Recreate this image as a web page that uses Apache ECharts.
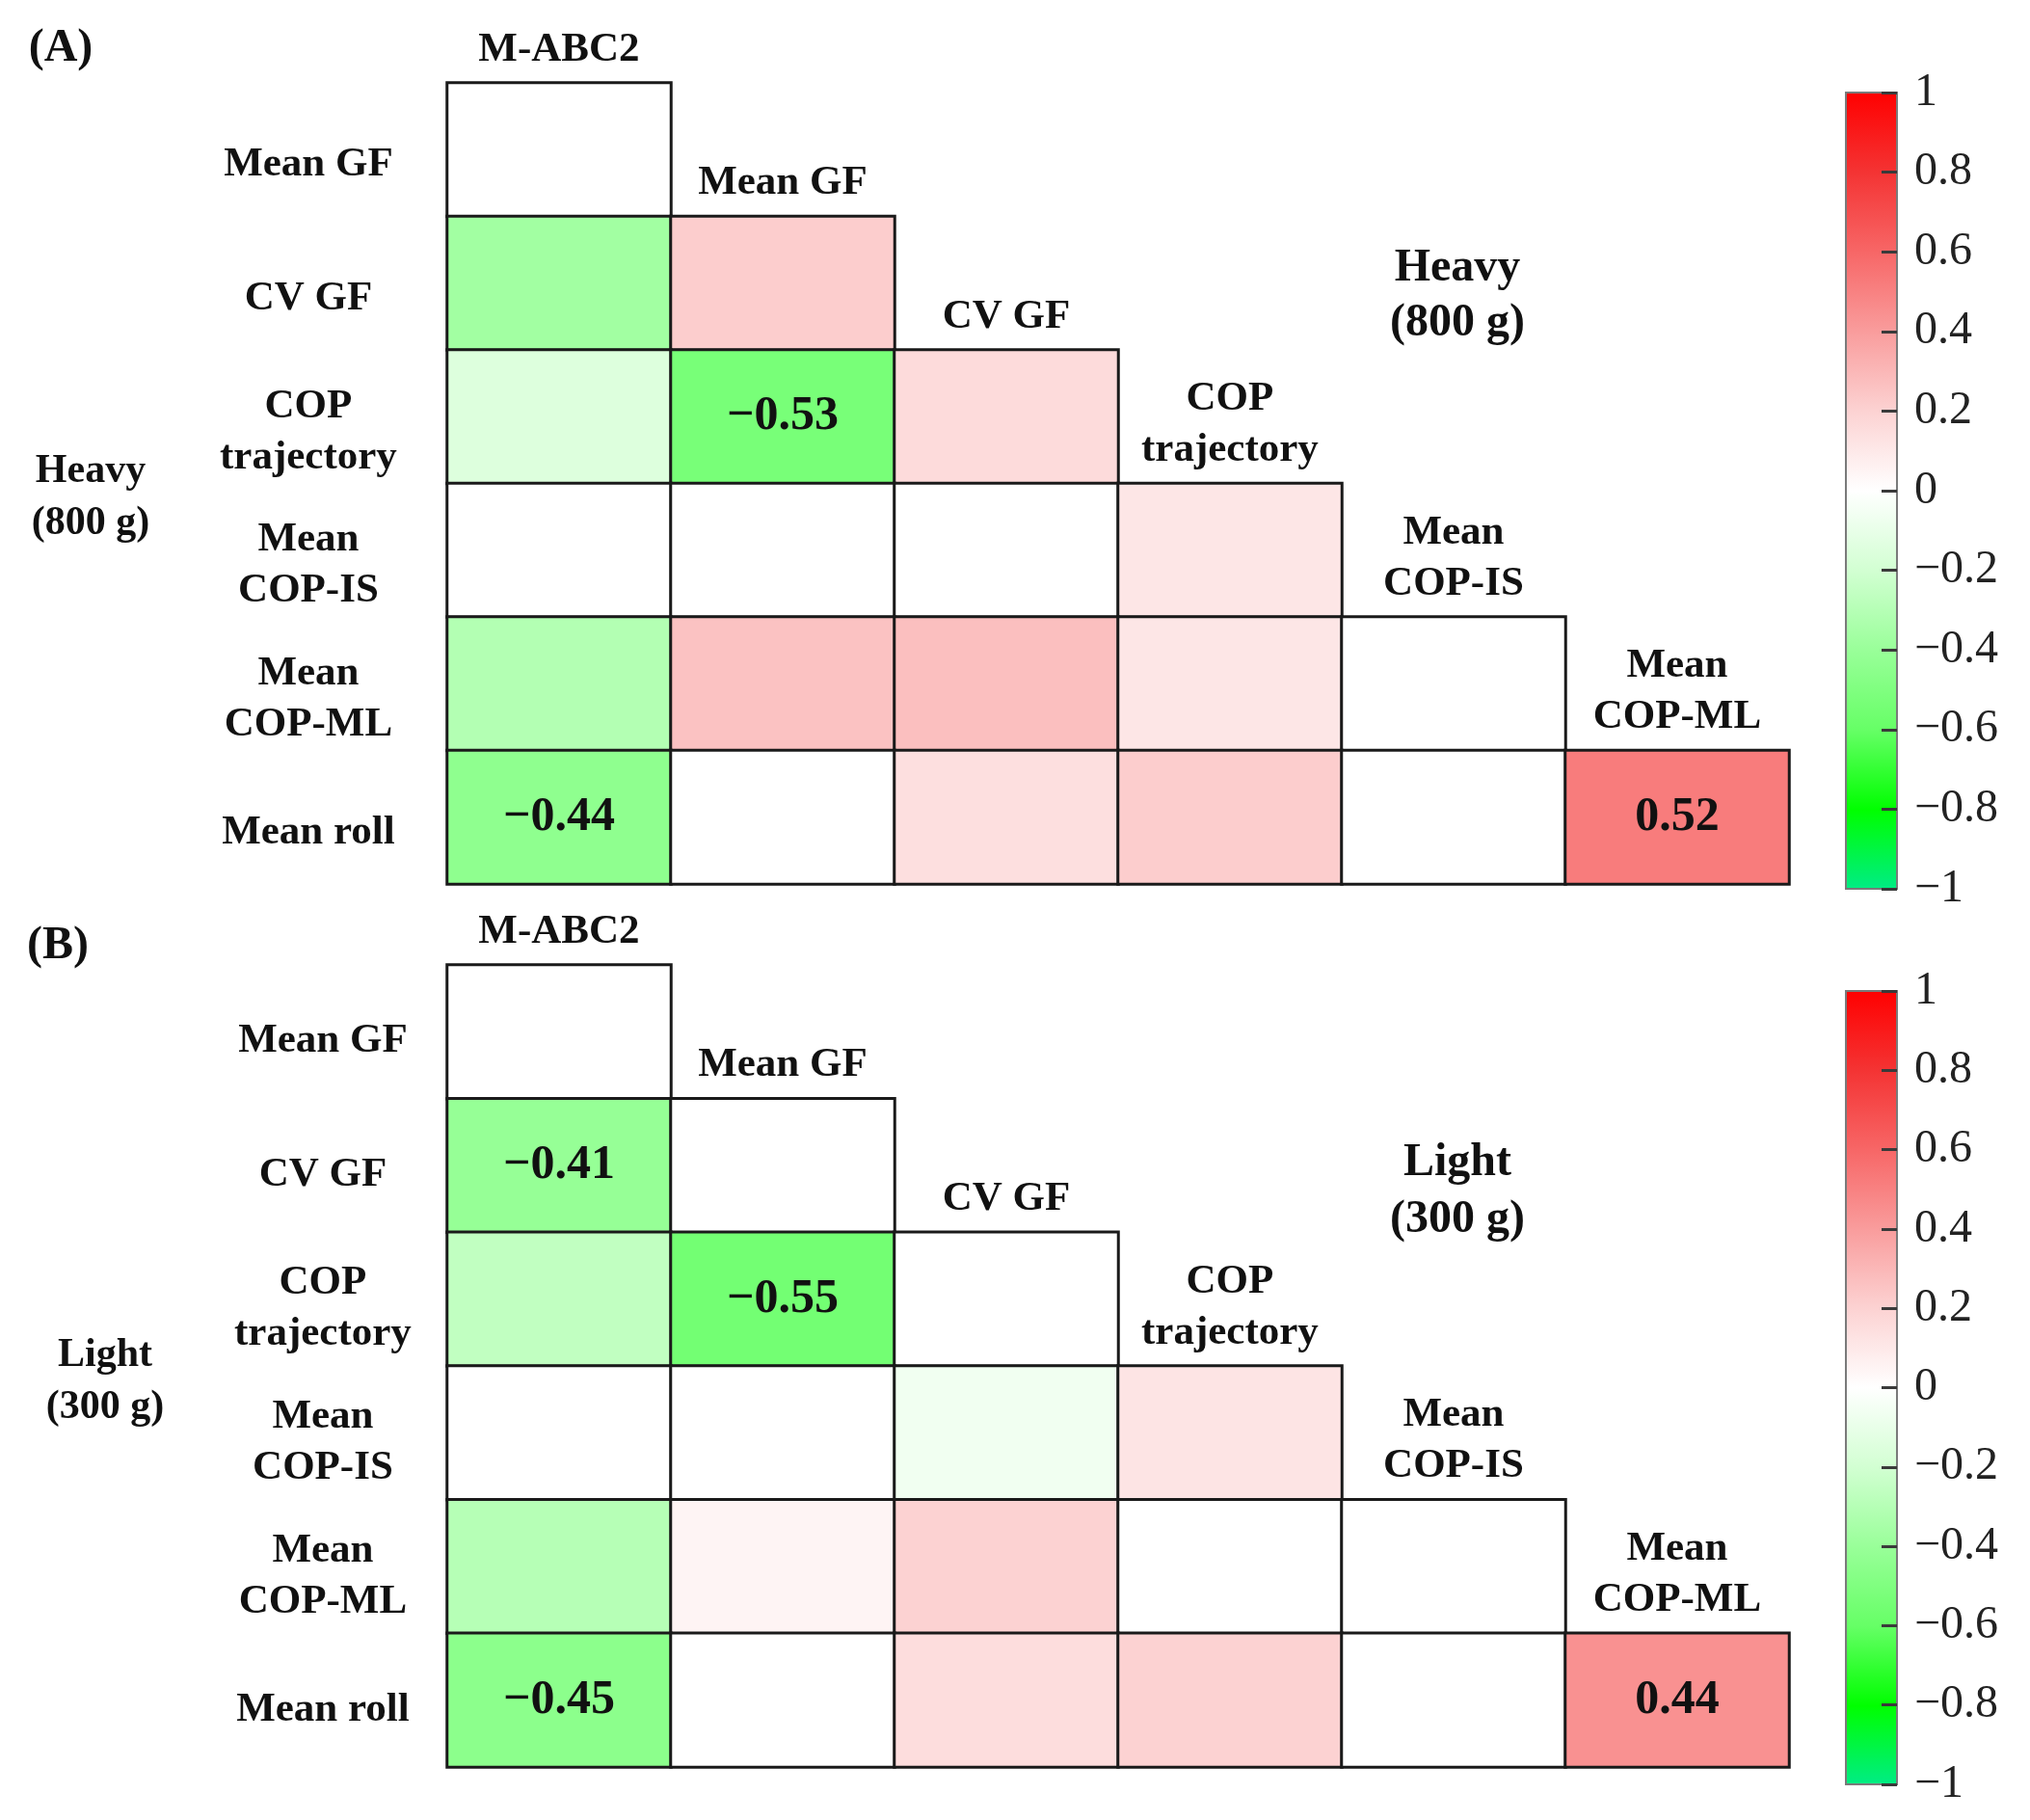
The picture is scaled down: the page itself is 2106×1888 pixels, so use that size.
<!DOCTYPE html>
<html>
<head>
<meta charset="utf-8">
<script src="https://cdn.jsdelivr.net/npm/echarts@6/dist/echarts.min.js"></script>
<style>
  html, body { margin: 0; padding: 0; background: #ffffff; }
  #chart { width: 2106px; height: 1888px; }
</style>
</head>
<body>
<div id="chart"></div>
<script>
// ---------- data ----------
const rowNames = ['Mean GF', 'CV GF', 'COP\ntrajectory', 'Mean\nCOP-IS', 'Mean\nCOP-ML', 'Mean roll'];
const colNames = ['M-ABC2', 'Mean GF', 'CV GF', 'COP\ntrajectory', 'Mean\nCOP-IS', 'Mean\nCOP-ML'];
// lower-triangular correlation values (row i has columns 0..i)
const heavyValues = [
  [0],
  [-0.37, 0.22],
  [-0.15, -0.53, 0.16],
  [0, 0, 0, 0.11],
  [-0.31, 0.26, 0.27, 0.11, 0],
  [-0.44, 0, 0.14, 0.22, 0, 0.52]
];
const lightValues = [
  [0],
  [-0.41, 0],
  [-0.26, -0.55, 0],
  [0, 0, -0.06, 0.12],
  [-0.30, 0.05, 0.20, 0, 0],
  [-0.45, 0, 0.15, 0.20, 0, 0.44]
];
const panelLetters = ['(A)', '(B)'];
const panelTitles = ['Heavy\n(800 g)', 'Light\n(300 g)'];
const colorbarMin = -1;
const colorbarMax = 1;
const colorbarStep = 0.2;
const significantThreshold = 0.4;

// ---------- helpers ----------
const FONT = '"Liberation Serif", "Times New Roman", serif';
const colorStops = ['#00ec86', '#00ff00', '#66ff66', '#99ff99', '#d2ffd2', '#ffffff',
                    '#fcd2d2', '#f99c9c', '#f76666', '#f43333', '#ff0000'];
const fmt = v => {
  const r = Math.round(v * 100) / 100;
  return String(r).replace('-', '\u2212');
};
function toHeat(vals) {
  const out = [];
  vals.forEach((row, r) => row.forEach((v, c) => out.push([c, r, v])));
  return out;
}

const grids = [
  { left: 464, top: 86, width: 1392, height: 831 },
  { left: 464, top: 1001, width: 1392, height: 832 }
];
const cbBars = [
  { left: 1915, top: 96, width: 53, height: 826 },
  { left: 1915, top: 1028, width: 53, height: 823 }
];
const tickLen = 16;
// narrow grids on the right edge of each colour bar: their split lines are the ticks
const cbTickGrids = cbBars.map(b => ({ left: b.left + b.width - tickLen, top: b.top, width: tickLen, height: b.height }));
const rowLabelShiftX = [-260, -245];
const rowLabelShiftY = [16, 10];

const gradient = new echarts.graphic.LinearGradient(0, 1, 0, 0,
  colorStops.map((c, i) => ({ offset: i / (colorStops.length - 1), color: c })));

const txt = (size) => ({
  fontFamily: FONT, fontWeight: 'bold', fontSize: size, color: '#111',
  textBorderWidth: 0, opacity: 1
});

const option = {
  backgroundColor: '#ffffff',
  animation: false,
  grid: [
    ...grids.map(g => Object.assign({}, g)),
    ...cbTickGrids.map(g => Object.assign({ show: false }, g))
  ],
  xAxis: [
    ...grids.map((g, i) => ({
      type: 'category', gridIndex: i, data: colNames,
      axisLine: { show: false }, axisTick: { show: false }, axisLabel: { show: false }, splitLine: { show: false }
    })),
    ...cbTickGrids.map((g, i) => ({
      type: 'value', gridIndex: 2 + i, min: 0, max: 1,
      axisLine: { show: false }, axisTick: { show: false }, axisLabel: { show: false }, splitLine: { show: false }
    }))
  ],
  yAxis: [
    ...grids.map((g, i) => ({
      type: 'category', gridIndex: i, data: rowNames, inverse: true,
      axisLine: { show: false }, axisTick: { show: false }, splitLine: { show: false },
      axisLabel: { show: false }
    })),
    ...cbTickGrids.map((g, i) => ({
      type: 'value', gridIndex: 2 + i, position: 'right', z: 10,
      min: colorbarMin, max: colorbarMax, interval: colorbarStep,
      axisLine: { show: false, onZero: false },
      axisTick: { show: false },
      splitLine: { show: true, lineStyle: { color: '#3a3a3a', width: 3, type: 'solid' } },
      axisLabel: {
        margin: 18, color: '#222', fontFamily: FONT, fontSize: 48,
        formatter: v => fmt(Math.round(v * 10) / 10)
      }
    }))
  ],
  visualMap: {
    show: false, type: 'continuous', min: colorbarMin, max: colorbarMax,
    dimension: 2, seriesIndex: [0, 3],
    inRange: { color: colorStops }
  },
  series: [],
  graphic: []
};

[heavyValues, lightValues].forEach((vals, i) => {
  const bandH = grids[i].height / rowNames.length;
  // correlation cells
  option.series.push({
    type: 'heatmap', xAxisIndex: i, yAxisIndex: i,
    data: toHeat(vals),
    itemStyle: { borderColor: '#1a1a1a', borderWidth: 3 },
    emphasis: { disabled: true },
    label: Object.assign({
      show: true,
      formatter: p => Math.abs(p.value[2]) >= significantThreshold ? fmt(p.value[2]) : ''
    }, txt(50)),
    z: 2
  });
  // diagonal column headers
  option.series.push({
    type: 'scatter', xAxisIndex: i, yAxisIndex: i,
    data: colNames.map((n, k) => [k, k]),
    symbolSize: 0.1,
    itemStyle: { color: 'rgba(0,0,0,0)' },
    silent: true,
    label: Object.assign({
      show: true, position: [0, -(bandH / 2 + 8)], verticalAlign: 'bottom', align: 'center',
      lineHeight: 53,
      formatter: p => colNames[p.dataIndex]
    }, txt(43)),
    z: 3
  });
  // row labels
  option.series.push({
    type: 'scatter', xAxisIndex: i, yAxisIndex: i,
    data: rowNames.map((n, k) => [0, k]),
    symbolSize: 0.1,
    itemStyle: { color: 'rgba(0,0,0,0)' },
    silent: true,
    label: Object.assign({
      show: true, position: [rowLabelShiftX[i], rowLabelShiftY[i]], verticalAlign: 'middle', align: 'center',
      lineHeight: 53,
      formatter: p => rowNames[p.dataIndex]
    }, txt(43)),
    z: 3
  });
});

// colour bars (gradient of the same colour scale used by the cells)
cbBars.forEach(g => {
  option.graphic.push({
    type: 'rect', z: -100, silent: true,
    shape: { x: g.left, y: g.top, width: g.width, height: g.height },
    style: { fill: gradient, stroke: '#7a7a7a', lineWidth: 2 }
  });
});

// panel letters, side labels and in-plot titles
const letterPos = [[63, 51], [60, 982]];
const sidePos = [[94, 516], [109, 1433]];
const titlePos = [[1512, 307], [1512, 1236]];
const titleLH = [57, 59];
[0, 1].forEach(i => {
  option.graphic.push({
    type: 'text', x: letterPos[i][0], y: letterPos[i][1],
    style: { text: panelLetters[i], font: 'bold 48px ' + FONT, fill: '#111', align: 'center', verticalAlign: 'middle' }
  });
  option.graphic.push({
    type: 'text', x: sidePos[i][0], y: sidePos[i][1],
    style: { text: panelTitles[i], font: 'bold 42px ' + FONT, fill: '#111', align: 'center', verticalAlign: 'middle', lineHeight: 54 }
  });
  option.graphic.push({
    type: 'text', x: titlePos[i][0], y: titlePos[i][1],
    style: { text: panelTitles[i], font: 'bold 48px ' + FONT, fill: '#111', align: 'center', verticalAlign: 'middle', lineHeight: titleLH[i] }
  });
});

const chart = echarts.init(document.getElementById('chart'), null, { renderer: 'canvas' });
chart.setOption(option);
</script>
</body>
</html>
